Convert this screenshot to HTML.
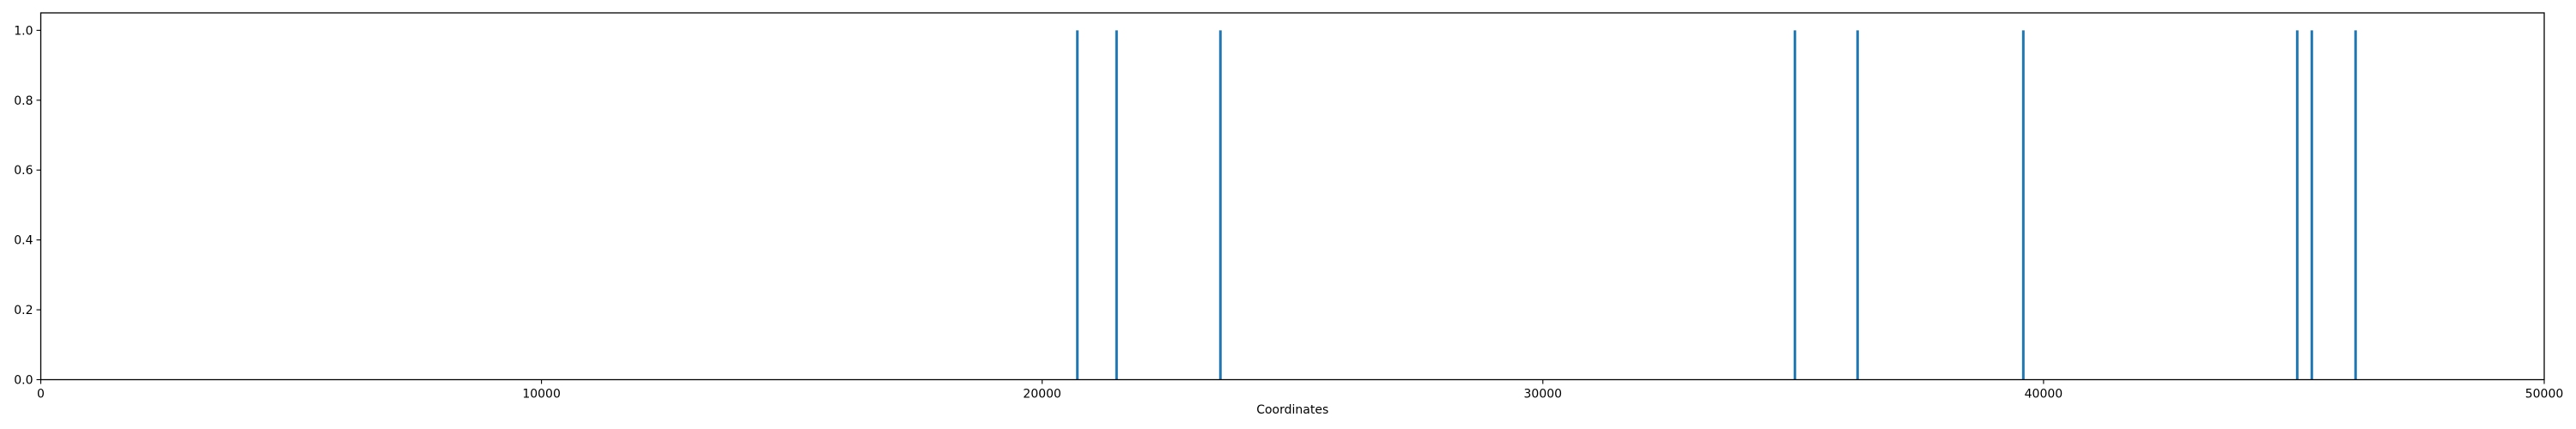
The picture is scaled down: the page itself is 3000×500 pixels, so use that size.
<!DOCTYPE html>
<html><head><meta charset="utf-8"><style>
body{margin:0;background:#fff}
svg{display:block;font-family:"DejaVu Sans","Liberation Sans",sans-serif}
</style></head><body>
<svg id="chart" width="3000" height="500" xmlns="http://www.w3.org/2000/svg">
<g id="marks"></g>
<g id="axes"></g>
</svg>
<script>
const positions = [20703, 21486, 23560, 35034, 36286, 39596, 45067, 45358, 46232];
const heights = [1, 1, 1, 1, 1, 1, 1, 1, 1];
const xTicks = [0, 10000, 20000, 30000, 40000, 50000];
const yTicks = [0.0, 0.2, 0.4, 0.6, 0.8, 1.0];
const L=47.5,R=2963,T=15,B=442.5;
const xs=v=>L+v/50000*(R-L);
const ys=v=>B-v/1.05*(B-T);
const NS="http://www.w3.org/2000/svg";
function mk(t,a,p){const e=document.createElementNS(NS,t);for(const k in a)e.setAttribute(k,a[k]);p.appendChild(e);return e;}
const marks=document.getElementById('marks'),axes=document.getElementById('axes');
positions.forEach((p,i)=>{
 const l=mk('line',{x1:xs(p),x2:xs(p),y1:ys(0),y2:ys(heights[i]),stroke:'#1f77b4','stroke-width':3},marks);
 
 
});
const frame=mk('rect',{x:L,y:T,width:R-L,height:B-T,fill:'none',stroke:'#000','stroke-width':1.3},axes);


xTicks.forEach(v=>{
 const x=xs(v);
 mk('line',{x1:x,x2:x,y1:B,y2:B+5,stroke:'#000','stroke-width':1.1},axes);
 const t=mk('text',{x:x,y:B+21,'text-anchor':'middle','font-size':'14px',fill:'#000'},axes);
 t.textContent=String(v);
 
 
});
yTicks.forEach(v=>{
 const y=ys(v);
 mk('line',{x1:L-5,x2:L,y1:y,y2:y,stroke:'#000','stroke-width':1.1},axes);
 const t=mk('text',{x:L-9,y:y+5,'text-anchor':'end','font-size':'14px',fill:'#000'},axes);
 t.textContent=v.toFixed(1);
 
 
});
const xl=mk('text',{x:(L+R)/2,y:482,'text-anchor':'middle','font-size':'14px',fill:'#000'},axes);
xl.textContent='Coordinates';


</script>
</body></html>
